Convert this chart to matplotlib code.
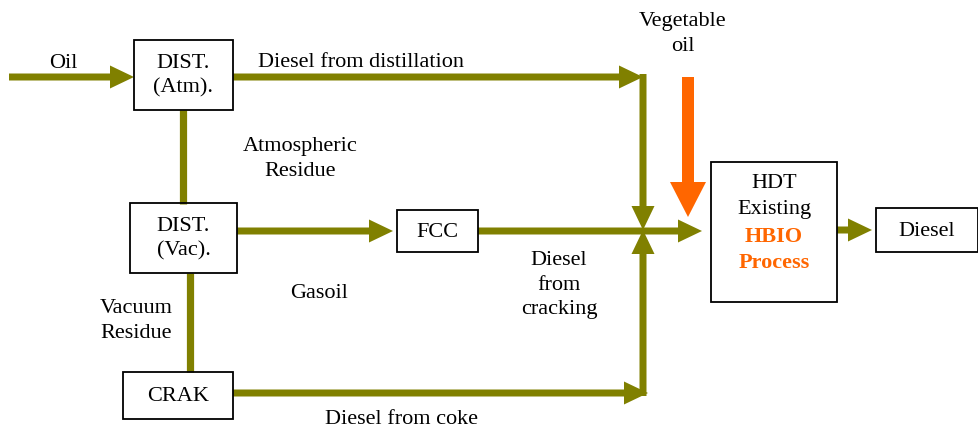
import matplotlib.pyplot as plt
from matplotlib.patches import Rectangle, FancyArrow

OLIVE = "#808000"
ORANGE = "#FF6600"

# process boxes: name -> (x0, y0, x1, y1) in pixel space, labels
box_names = ["atm", "vac", "fcc", "crak", "hdt", "diesel"]
box_rects = [(134, 40, 233, 110), (130, 203, 237, 273), (397, 210, 478, 252),
             (123, 372, 233, 419), (711, 162, 837, 302), (876, 208, 978, 252)]
box_labels = ["DIST.\n(Atm).", "DIST.\n(Vac).", "FCC", "CRAK", None, "Diesel"]

# stream arrows: (x0, y0, x1, y1)
arrows = [(9, 77, 134, 77), (233, 77, 643, 77), (643, 74, 643, 230),
          (237, 231, 393, 231), (478, 231, 702, 231), (233, 393, 648, 393),
          (643, 396, 643, 230), (837, 230, 872, 230)]

# plain connectors without heads
links = [(183, 110, 183, 204), (190, 273, 190, 372)]

# text labels: (x, y, text)
labels = [(63, 63, "Oil"), (361, 62, "Diesel from distillation"),
          (300, 159, "Atmospheric\nResidue"), (683, 34, "Vegetable\noil"),
          (319, 294, "Gasoil"), (559, 285, "Diesel\nfrom\ncracking"),
          (136, 321, "Vacuum\nResidue"), (402, 420, "Diesel from coke")]

# HDT box lines: (y, text, highlighted)
hdt_lines = [(183, "HDT", False), (209, "Existing", False),
             (237, "HBIO", True), (263, "Process", True)]

plt.rcParams['font.family'] = ['Liberation Serif', 'DejaVu Serif']
fig = plt.figure(figsize=(9.79, 4.28), dpi=100)
ax = fig.add_axes([0, 0, 1, 1])
ax.set_xlim(0, 979)
ax.set_ylim(428, 0)
ax.axis("off")

fs = 16
ls = 1.38

for (x0, y0, x1, y1), name, lab in zip(box_rects, box_names, box_labels):
    ax.add_patch(Rectangle((x0, y0), x1 - x0, y1 - y0, fill=False,
                           edgecolor="black", linewidth=1.3, zorder=3))
    if lab:
        ax.text((x0 + x1) / 2, (y0 + y1) / 2 + 1, lab, ha="center",
                va="center", fontsize=fs, linespacing=ls, zorder=4)

for y, t, hl in hdt_lines:
    ax.text(774, y, t, ha="center", va="center", fontsize=fs,
            color=ORANGE if hl else "black",
            fontweight="bold" if hl else "normal")

for x0, y0, x1, y1 in links:
    ax.plot([x0, x1], [y0, y1], color=OLIVE, linewidth=5.2,
            solid_capstyle="butt", zorder=2)

for x0, y0, x1, y1 in arrows:
    ax.add_patch(FancyArrow(x0, y0, x1 - x0, y1 - y0, width=7,
                            head_width=23, head_length=24,
                            length_includes_head=True, color=OLIVE,
                            linewidth=0, zorder=2))

# vegetable oil feed
ax.add_patch(FancyArrow(688, 77, 0, 217 - 77, width=12, head_width=36,
                        head_length=35, length_includes_head=True,
                        color=ORANGE, linewidth=0, zorder=2))

for x, y, t in labels:
    ax.text(x, y, t, ha="center", va="center", fontsize=fs, linespacing=ls)

fig.savefig("out.png", dpi=100)
